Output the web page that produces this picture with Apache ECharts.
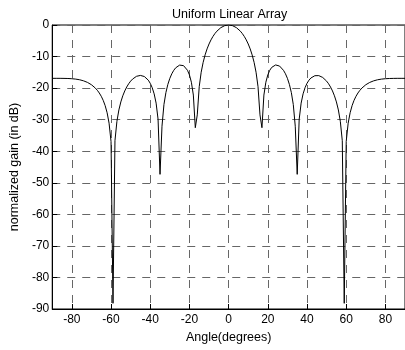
<!DOCTYPE html>
<html><head><meta charset="utf-8">
<script src="https://cdn.jsdelivr.net/npm/echarts@6/dist/echarts.min.js"></script>
<style>html,body{margin:0;padding:0;background:#fff}#c{width:405px;height:350px}</style>
</head><body><div id="c"></div>
<script>
const titleText = 'Uniform Linear Array';
const xName = 'Angle(degrees)';
const yName = 'normalized gain (in dB)';
const xTicks = [-80, -60, -40, -20, 0, 20, 40, 60, 80];
const yTicks = [0, -10, -20, -30, -40, -50, -60, -70, -80, -90];
const angles = [
 -90,-89,-88,-87,-86,-85,-84,-83,-82,-81,-80,-79,-78,-77,-76,-75,-74,-73,-72,-71,
 -70,-69,-68,-67,-66,-65,-64,-63,-62,-61,-60,-59,-58,-57,-56,-55,-54,-53,-52,-51,
 -50,-49,-48,-47,-46,-45,-44,-43,-42,-41,-40,-39,-38,-37,-36,-35,-34,-33,-32,-31,
 -30,-29,-28,-27,-26,-25,-24,-23,-22,-21,-20,-19,-18,-17,-16,-15,-14,-13,-12,-11,
 -10,-9,-8,-7,-6,-5,-4,-3,-2,-1,0,1,2,3,4,5,6,7,8,9,
 10,11,12,13,14,15,16,17,18,19,20,21,22,23,24,25,26,27,28,29,
 30,31,32,33,34,35,36,37,38,39,40,41,42,43,44,45,46,47,48,49,
 50,51,52,53,54,55,56,57,58,59,60,61,62,63,64,65,66,67,68,69,
 70,71,72,73,74,75,76,77,78,79,80,81,82,83,84,85,86,87,88,89,90
];
const gain = [
 -16.90,-16.90,-16.90,-16.90,-16.90,-16.91,-16.92,-16.93,-16.95,-16.98,
 -17.02,-17.08,-17.15,-17.24,-17.36,-17.51,-17.70,-17.93,-18.20,-18.53,
 -18.93,-19.41,-19.99,-20.69,-21.54,-22.58,-23.88,-25.56,-27.81,-31.11,
 -36.93,-88.2,-36.67,-30.53,-26.92,-24.38,-22.44,-20.90,-19.65,-18.62,
 -17.79,-17.13,-16.62,-16.26,-16.04,-15.98,-16.07,-16.33,-16.79,-17.48,
 -18.47,-19.86,-21.82,-24.76,-29.89,-47.33,-32.08,-25.20,-21.40,-18.81,
 -16.90,-15.46,-14.37,-13.56,-13.01,-12.71,-12.66,-12.88,-13.42,-14.34,
 -15.81,-18.14,-22.20,-32.55,-28.48,-19.55,-14.97,-11.84,-9.47,-7.57,
 -6.02,-4.72,-3.63,-2.72,-1.96,-1.35,-0.85,-0.47,-0.21,-0.05,
 0,
 -0.05,-0.21,-0.47,-0.85,-1.35,-1.96,-2.72,-3.63,-4.72,-6.02,
 -7.57,-9.47,-11.84,-14.97,-19.55,-28.48,-32.55,-22.20,-18.14,-15.81,
 -14.34,-13.42,-12.88,-12.66,-12.71,-13.01,-13.56,-14.37,-15.46,-16.90,
 -18.81,-21.40,-25.20,-32.08,-47.33,-29.89,-24.76,-21.82,-19.86,-18.47,
 -17.48,-16.79,-16.33,-16.07,-15.98,-16.04,-16.26,-16.62,-17.13,-17.79,
 -18.62,-19.65,-20.90,-22.44,-24.38,-26.92,-30.53,-36.67,-88.2,-36.93,
 -31.11,-27.81,-25.56,-23.88,-22.58,-21.54,-20.69,-19.99,-19.41,-18.93,
 -18.53,-18.20,-17.93,-17.70,-17.51,-17.36,-17.24,-17.15,-17.08,-17.02,
 -16.98,-16.95,-16.93,-16.92,-16.91,-16.90,-16.90,-16.90,-16.90,-16.90
];
const FONT = '"Liberation Sans", Arial, sans-serif';
const gridLine = { show: true, lineStyle: { color: '#666', width: 1, type: [8, 7] } };
const chart = echarts.init(document.getElementById('c'), null, { renderer: 'canvas' });
chart.setOption({
  animation: false,
  backgroundColor: '#fff',
  title: {
    text: titleText, left: 167, top: 3,
    textStyle: { fontFamily: FONT, fontSize: 12.5, fontWeight: 'normal', color: '#000' }
  },
  grid: { left: 48, top: 25, width: 358, height: 284, show: true, borderColor: '#000', borderWidth: 1, containLabel: false },
  xAxis: {
    type: 'value', min: -90, max: 90,
    name: xName, nameLocation: 'middle', nameGap: 20,
    nameTextStyle: { fontFamily: FONT, fontSize: 12.5, color: '#000' },
    axisLine: { show: true, onZero: false, lineStyle: { color: '#000', width: 1 } },
    axisTick: { show: true, inside: true, length: 5, customValues: xTicks, lineStyle: { color: '#000' } },
    axisLabel: { customValues: xTicks, margin: 5, fontFamily: FONT, fontSize: 12, color: '#000' },
    splitLine: gridLine
  },
  yAxis: {
    type: 'value', min: -90, max: 0, interval: 10,
    name: yName, nameLocation: 'middle', nameGap: 30, nameRotate: 90,
    nameTextStyle: { fontFamily: FONT, fontSize: 12.5, color: '#000' },
    axisLine: { show: true, onZero: false, lineStyle: { color: '#000', width: 1 } },
    axisTick: { show: true, inside: true, length: 5, lineStyle: { color: '#000' } },
    axisLabel: { customValues: yTicks, margin: 3, fontFamily: FONT, fontSize: 12, color: '#000' },
    splitLine: gridLine
  },
  series: [{
    type: 'line', data: angles.map((a, i) => [a, gain[i]]),
    showSymbol: false, symbol: 'none', clip: true,
    lineStyle: { color: '#000', width: 1 }
  }]
});
</script>
</body></html>
